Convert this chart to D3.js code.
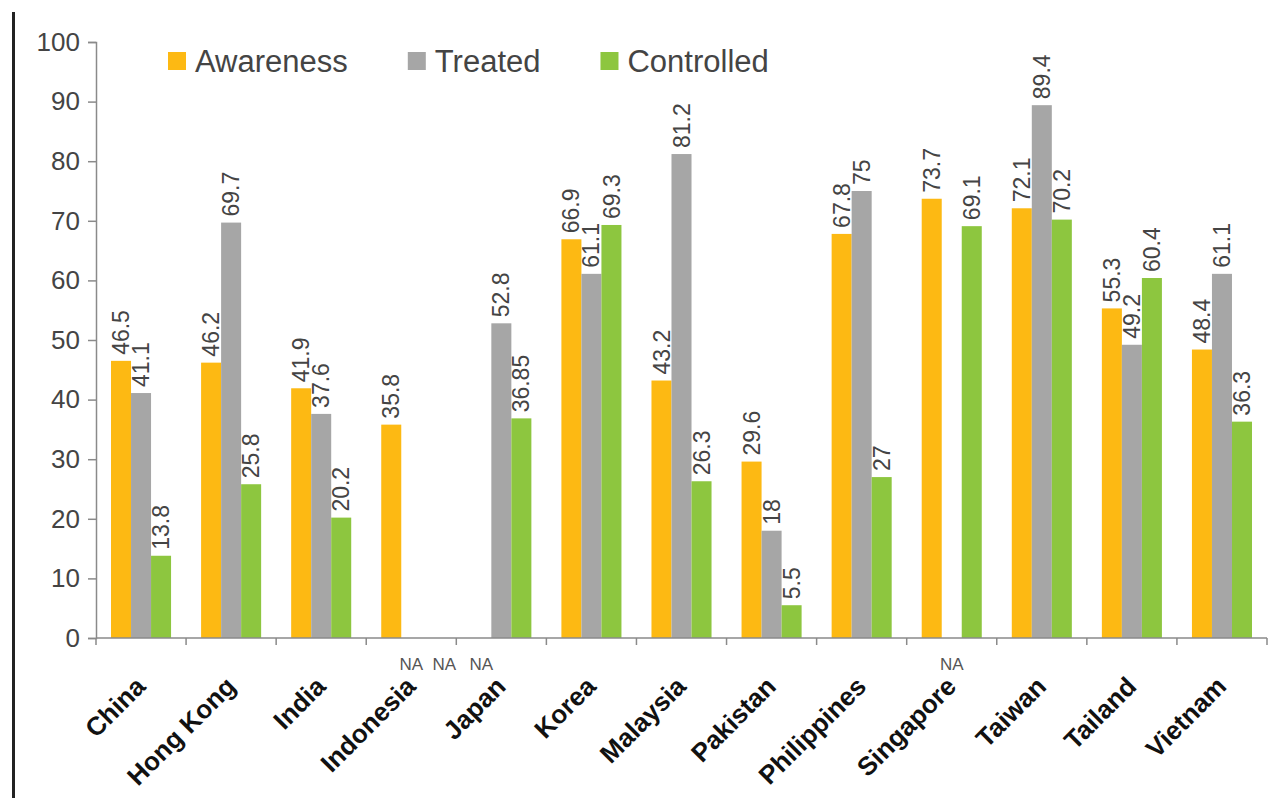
<!DOCTYPE html>
<html>
<head>
<meta charset="utf-8">
<script src="https://cdn.jsdelivr.net/npm/d3@7"></script>
<style>
  body { margin: 0; background: #fff; }
  text { font-family: "Liberation Sans", Arial, sans-serif; }
</style>
</head>
<body>
<script>
const countries = ['China', 'Hong Kong', 'India', 'Indonesia', 'Japan', 'Korea', 'Malaysia',
  'Pakistan', 'Philippines', 'Singapore', 'Taiwan', 'Tailand', 'Vietnam']
const seriesNames = ['Awareness', 'Treated', 'Controlled']
// null = NA
const awareness = [46.5, 46.2, 41.9, 35.8, null, 66.9, 43.2, 29.6, 67.8, 73.7, 72.1, 55.3, 48.4]
const treated = [41.1, 69.7, 37.6, null, 52.8, 61.1, 81.2, 18, 75, null, 89.4, 49.2, 61.1]
const controlled = [13.8, 25.8, 20.2, null, 36.85, 69.3, 26.3, 5.5, 27, 69.1, 70.2, 60.4, 36.3]
const yTicks = [0, 10, 20, 30, 40, 50, 60, 70, 80, 90, 100]
const colors = ['#FDB913', '#A6A6A6', '#8DC63F']

const WIDTH = 1281
const HEIGHT = 798
const plotLeft = 96, plotRight = 1267, plotTop = 42, plotBottom = 638

const svg = d3.select(document.body).append('svg')
  .attr('width', WIDTH)
  .attr('height', HEIGHT)

// black frame line at left edge
svg.append('line')
  .attr('x1', 13.5).attr('x2', 13.5)
  .attr('y1', 12).attr('y2', HEIGHT)
  .attr('stroke', '#222')
  .attr('stroke-width', 3)

const x = d3.scaleBand().domain(countries).range([plotLeft, plotRight]).paddingInner(0).paddingOuter(0)
const xSub = d3.scaleBand().domain(seriesNames).range([0, x.bandwidth()]).paddingOuter(0.75).paddingInner(0)
const y = d3.scaleLinear().domain([0, 100]).range([plotBottom, plotTop])

const rows = []
countries.forEach((c, i) => {
  const vals = [awareness[i], treated[i], controlled[i]]
  vals.forEach((v, j) => rows.push({ country: c, series: seriesNames[j], value: v, color: colors[j] }))
})

// y axis
const yAxis = svg.append('g')
  .attr('transform', `translate(${plotLeft},0)`)
  .call(d3.axisLeft(y).tickValues(yTicks).tickSize(8).tickPadding(8))
yAxis.select('.domain').attr('stroke', '#8a8a8a').attr('stroke-width', 1.5)
yAxis.selectAll('.tick line').attr('stroke', '#8a8a8a').attr('stroke-width', 1.5)
yAxis.selectAll('.tick text')
  .attr('fill', '#444')
  .style('font-size', '26px')
  .style('font-family', '"Liberation Sans", Arial, sans-serif')

// bars
const bars = rows.filter(d => d.value !== null)
svg.append('g').selectAll('rect')
  .data(bars)
  .enter()
  .append('rect')
  .attr('x', d => x(d.country) + xSub(d.series))
  .attr('width', xSub.bandwidth())
  .attr('y', d => y(d.value))
  .attr('height', d => y(0) - y(d.value))
  .attr('fill', d => d.color)

// value labels
svg.append('g').selectAll('text')
  .data(bars)
  .enter()
  .append('text')
  .attr('transform', d => {
    const cx = x(d.country) + xSub(d.series) + xSub.bandwidth() / 2
    return `translate(${cx},${y(d.value) - 6}) rotate(-90)`
  })
  .attr('dy', '0.35em')
  .attr('text-anchor', 'start')
  .attr('fill', '#444')
  .style('font-size', '23px')
  .text(d => d.value)

// x axis
const xAxisG = svg.append('g').attr('transform', `translate(0,${plotBottom})`)
xAxisG.append('line')
  .attr('x1', plotLeft).attr('x2', plotRight)
  .attr('stroke', '#8a8a8a').attr('stroke-width', 1.5)
xAxisG.selectAll('line.tk')
  .data(d3.range(countries.length + 1))
  .enter()
  .append('line')
  .attr('class', 'tk')
  .attr('x1', i => i < countries.length ? x(countries[i]) : plotRight)
  .attr('x2', i => i < countries.length ? x(countries[i]) : plotRight)
  .attr('y1', 0).attr('y2', 7)
  .attr('stroke', '#8a8a8a').attr('stroke-width', 1.5)

// NA labels, spread so they don't overlap
const naRows = rows.filter(d => d.value === null)
  .map(d => ({ ...d, cx: x(d.country) + xSub(d.series) + xSub.bandwidth() / 2 }))
naRows.forEach((d, i) => {
  if (i > 0 && d.cx - naRows[i - 1].cx < 33) d.cx = naRows[i - 1].cx + 33
})
svg.append('g').selectAll('text')
  .data(naRows)
  .enter()
  .append('text')
  .attr('x', d => d.cx)
  .attr('y', plotBottom + 32)
  .attr('text-anchor', 'middle')
  .attr('fill', '#555')
  .style('font-size', '17px')
  .text('NA')

// category labels
svg.append('g').selectAll('text')
  .data(countries)
  .enter()
  .append('text')
  .attr('transform', d => `translate(${x(d) + x.bandwidth() / 2 + 6},${plotBottom + 50}) rotate(-45)`)
  .attr('text-anchor', 'end')
  .attr('fill', '#111')
  .style('font-size', '26px')
  .style('font-weight', 'bold')
  .text(d => d)

// legend
const legend = svg.append('g').attr('transform', 'translate(168,52)')
let lx = 0
seriesNames.forEach((name, i) => {
  const item = legend.append('g').attr('transform', `translate(${lx},0)`)
  item.append('rect')
    .attr('width', 18).attr('height', 18)
    .attr('fill', colors[i])
  const t = item.append('text')
    .attr('x', 27).attr('y', 20)
    .attr('fill', '#444')
    .style('font-size', '31px')
    .text(name)
  lx += 27 + t.node().getComputedTextLength() + 60
})
</script>
</body>
</html>
